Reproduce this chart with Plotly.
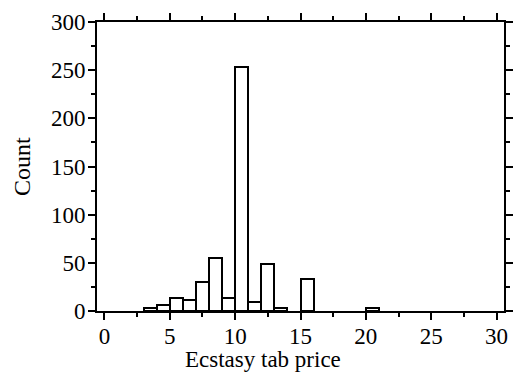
import plotly.graph_objects as go

# Histogram of ecstasy tab prices (bin width 1)
bin_left = [3, 4, 5, 6, 7, 8, 9, 10, 11, 12, 13, 15, 20]
counts = [3, 6, 14, 11, 30, 55, 14, 253, 9, 49, 3, 33, 3]
bin_width = 1.0

x_ticks = [0, 5, 10, 15, 20, 25, 30]
y_ticks = [0, 50, 100, 150, 200, 250, 300]
x_title = "Ecstasy tab price"
y_title = "Count"

FONT = "Liberation Serif"

fig = go.Figure()
fig.add_trace(go.Bar(
    x=[b + bin_width / 2 for b in bin_left],
    y=counts,
    width=[bin_width] * len(bin_left),
    marker=dict(color="white", line=dict(color="black", width=2)),
    showlegend=False,
))

axis_common = dict(
    showline=True, linecolor="black", linewidth=2,
    mirror="ticks", ticks="outside", tickwidth=2, tickcolor="black",
    showgrid=False, zeroline=False,
    tickfont=dict(family=FONT, size=23, color="black"),
)

fig.update_xaxes(
    range=[-0.57, 30.57], tickvals=x_ticks, ticklen=7, ticklabelstandoff=-4,
    minor=dict(dtick=2.5, ticks="outside", ticklen=4, tickwidth=2, tickcolor="black", showgrid=False),
    **axis_common,
)
fig.update_yaxes(
    range=[0, 300], tickvals=y_ticks, ticklen=7, ticklabelstandoff=-2,
    minor=dict(dtick=25, ticks="outside", ticklen=4, tickwidth=2, tickcolor="black", showgrid=False),
    **axis_common,
)

fig.add_annotation(
    text=x_title, xref="paper", yref="paper", x=0.407, y=0, yshift=-34,
    xanchor="center", yanchor="top", showarrow=False,
    font=dict(family=FONT, size=23, color="black"),
)
fig.add_annotation(
    text=y_title, xref="paper", yref="paper", x=0, xshift=-75.5, y=0.5,
    xanchor="center", yanchor="middle", textangle=-90, showarrow=False,
    font=dict(family=FONT, size=24, color="black"),
)

fig.update_layout(
    width=523, height=374,
    margin=dict(l=97, r=10, t=21, b=63),
    plot_bgcolor="white", paper_bgcolor="white",
    bargap=0,
)

fig.write_html("out.html")
